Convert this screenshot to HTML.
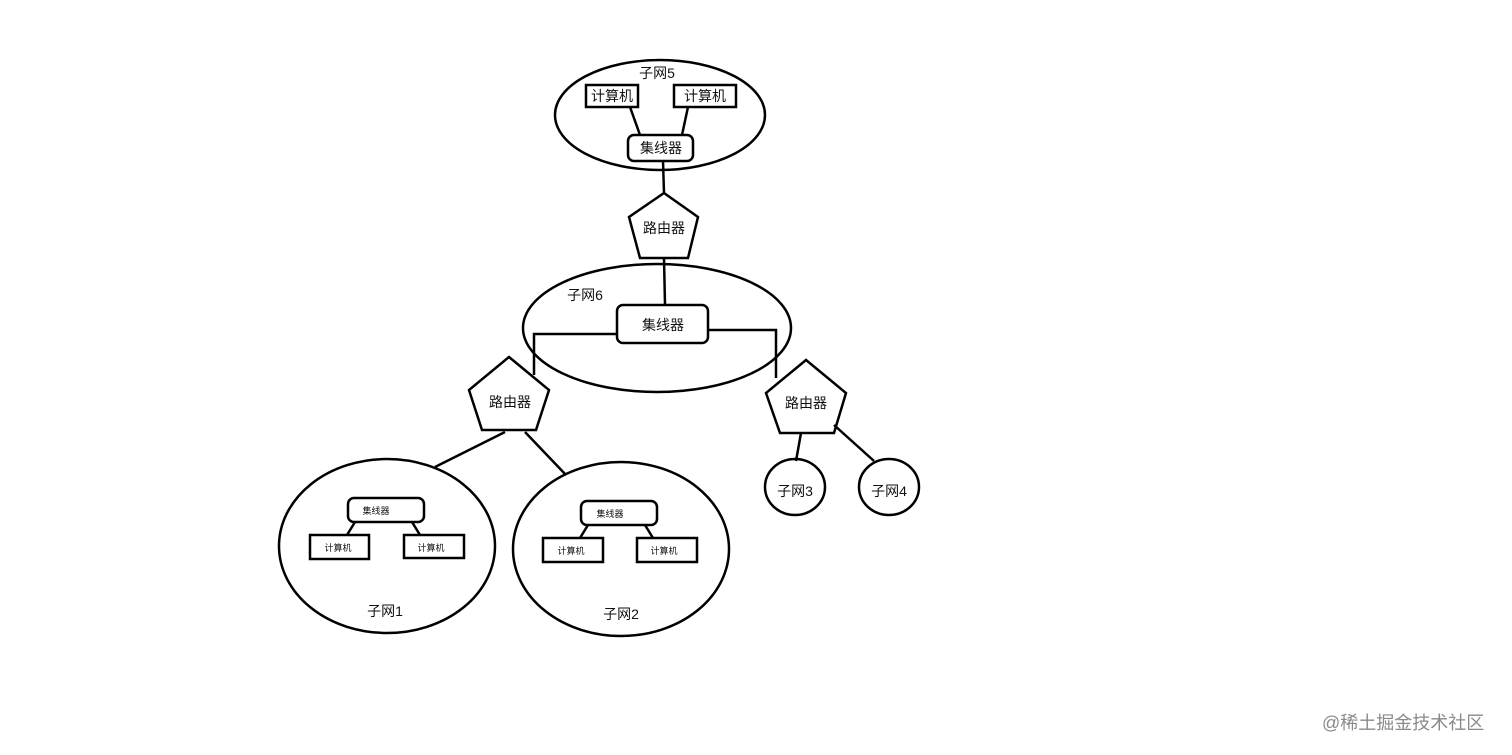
<!DOCTYPE html>
<html><head><meta charset="utf-8"><style>
html,body{margin:0;padding:0;background:#fff;}
svg{display:block}
text{font-family:"Liberation Sans","Noto Sans CJK SC",sans-serif;fill:#111;}
</style></head><body>
<svg width="1512" height="755" viewBox="0 0 1512 755" xmlns="http://www.w3.org/2000/svg">
<g fill="none" stroke="#000" stroke-width="2.5">
<ellipse cx="660" cy="115" rx="105" ry="55"/>
<rect x="586" y="85" width="52" height="22"/>
<rect x="674" y="85" width="62" height="22"/>
<rect x="628" y="135" width="65" height="26" rx="6"/>
<line x1="630" y1="107" x2="640" y2="135"/>
<line x1="688" y1="107" x2="682" y2="135"/>
<line x1="663" y1="161" x2="664" y2="193"/>
<polygon points="664,193 698,217 688,258 640,258 629,217"/>
<line x1="664" y1="258" x2="665" y2="305"/>
<ellipse cx="657" cy="328" rx="134" ry="64"/>
<rect x="617" y="305" width="91" height="38" rx="6"/>
<polyline points="617,334 534,334 534,375"/>
<polyline points="708,330 776,330 776,378"/>
<polygon points="509,357 549,390 536,430 482,430 469,390"/>
<line x1="505" y1="432" x2="435" y2="467"/>
<line x1="525" y1="432" x2="566" y2="475"/>
<polygon points="806,360 846,393 834,433 780,433 766,393"/>
<line x1="801" y1="433" x2="796" y2="461"/>
<line x1="834" y1="425" x2="874" y2="461"/>
<ellipse cx="795" cy="487" rx="30" ry="28"/>
<ellipse cx="889" cy="487" rx="30" ry="28"/>
<ellipse cx="387" cy="546" rx="108" ry="87"/>
<rect x="348" y="498" width="76" height="24" rx="6"/>
<rect x="310" y="535" width="59" height="24"/>
<rect x="404" y="535" width="60" height="23"/>
<line x1="355" y1="522" x2="347" y2="535"/>
<line x1="412" y1="522" x2="420" y2="535"/>
<ellipse cx="621" cy="549" rx="108" ry="87"/>
<rect x="581" y="501" width="76" height="24" rx="6"/>
<rect x="543" y="538" width="60" height="24"/>
<rect x="637" y="538" width="60" height="24"/>
<line x1="588" y1="525" x2="580" y2="538"/>
<line x1="645" y1="525" x2="653" y2="538"/>
</g>
<g text-anchor="middle">
<text x="657" y="78" font-size="14">子网5</text>
<text x="612" y="101" font-size="14">计算机</text>
<text x="705" y="101" font-size="14">计算机</text>
<text x="661" y="153" font-size="14">集线器</text>
<text x="664" y="233" font-size="14">路由器</text>
<text x="585" y="300" font-size="14">子网6</text>
<text x="663" y="330" font-size="14">集线器</text>
<text x="510" y="407" font-size="14">路由器</text>
<text x="806" y="408" font-size="14">路由器</text>
<text x="795" y="496" font-size="14">子网3</text>
<text x="889" y="496" font-size="14">子网4</text>
<text x="376" y="514" font-size="9">集线器</text>
<text x="338" y="551" font-size="9">计算机</text>
<text x="431" y="551" font-size="9">计算机</text>
<text x="385" y="616" font-size="14">子网1</text>
<text x="610" y="517" font-size="9">集线器</text>
<text x="571" y="554" font-size="9">计算机</text>
<text x="664" y="554" font-size="9">计算机</text>
<text x="621" y="619" font-size="14">子网2</text>
</g>
<text x="1322" y="729" font-size="18" style="fill:#8a8a8a">@稀土掘金技术社区</text>
</svg>
</body></html>
